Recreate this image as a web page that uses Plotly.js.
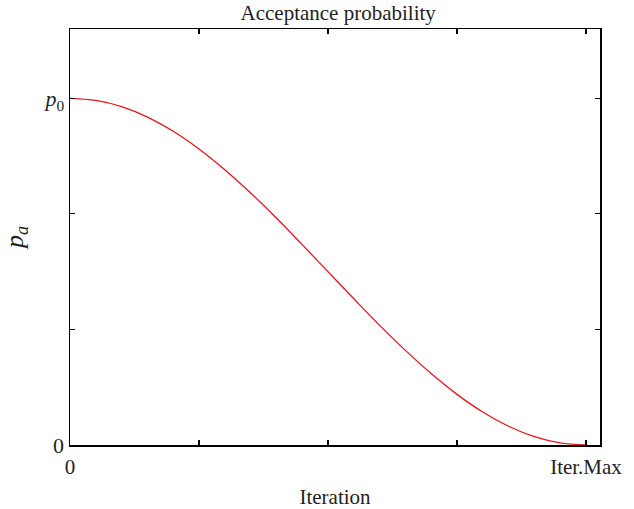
<!DOCTYPE html>
<html>
<head>
<meta charset="utf-8">
<script src="https://cdn.plot.ly/plotly-3.0.1.min.js"></script>
<style>html,body{margin:0;padding:0;background:#fff;}#chart{width:634px;height:509px;}</style>
</head>
<body>
<div id="chart"></div>
<script>
// Iteration as fraction of Iter.Max
const iterationFrac = [0, 0.05, 0.1, 0.15, 0.2, 0.25, 0.3, 0.35, 0.4, 0.45, 0.5, 0.55, 0.6, 0.65, 0.7, 0.75, 0.8, 0.85, 0.9, 0.95, 1.0];
// Acceptance probability as fraction of p0
const acceptProb = [1.0, 0.994, 0.976, 0.946, 0.905, 0.854, 0.794, 0.727, 0.655, 0.578, 0.5, 0.422, 0.345, 0.273, 0.206, 0.146, 0.095, 0.054, 0.024, 0.006, 0.0];
const xTickVals = [0, 1.0];
const xTickText = ["0", "Iter.Max"];
const yTickVals = [0, 1];
const yTickText = ["0", "<i>p</i><sub>0</sub>"];

const font = "Liberation Serif, Times New Roman, serif";
const txt = "#231f20";

Plotly.newPlot("chart", [{
  x: iterationFrac,
  y: acceptProb,
  type: "scatter",
  mode: "lines",
  line: {color: "#e8141b", width: 1.3, shape: "spline"},
  hoverinfo: "skip"
}], {
  width: 634, height: 509,
  margin: {l: 70, r: 34, t: 29, b: 64},
  paper_bgcolor: "#fff", plot_bgcolor: "#fff",
  showlegend: false,
  font: {family: font, size: 21, color: txt},
  title: {text: "Acceptance probability", x: 0.506, xref: "paper", xanchor: "center", y: 0.975, yanchor: "middle", font: {family: font, size: 21, color: txt}},
  xaxis: {
    range: [0, 530/516],
    tickvals: xTickVals, ticktext: xTickText,
    ticks: "inside", ticklen: 5, tickwidth: 1.2, tickcolor: "#000",
    minor: {dtick: 0.25, tick0: 0, ticks: "inside", ticklen: 5, tickwidth: 1.2, tickcolor: "#000", showgrid: false},
    showline: true, linecolor: "#000", linewidth: 1.5, mirror: "ticks",
    showgrid: false, zeroline: false,
    ticklabelstandoff: 2,
    tickfont: {family: font, size: 21, color: txt},
    title: {text: "Iteration", font: {family: font, size: 21, color: txt}, standoff: 13}
  },
  yaxis: {
    range: [0, 1.2],
    tickvals: yTickVals, ticktext: yTickText,
    ticks: "inside", ticklen: 5, tickwidth: 1.2, tickcolor: "#000",
    minor: {dtick: 1/3, tick0: 0, ticks: "inside", ticklen: 5, tickwidth: 1.2, tickcolor: "#000", showgrid: false},
    showline: true, linecolor: "#000", linewidth: 1.5, mirror: "ticks",
    showgrid: false, zeroline: false,
    tickfont: {family: font, size: 22, color: txt},
    title: {text: "<i>p<sub>a</sub></i>", font: {family: font, size: 26, color: txt}, standoff: 12}
  }
}, {staticPlot: true});
</script>
</body>
</html>
